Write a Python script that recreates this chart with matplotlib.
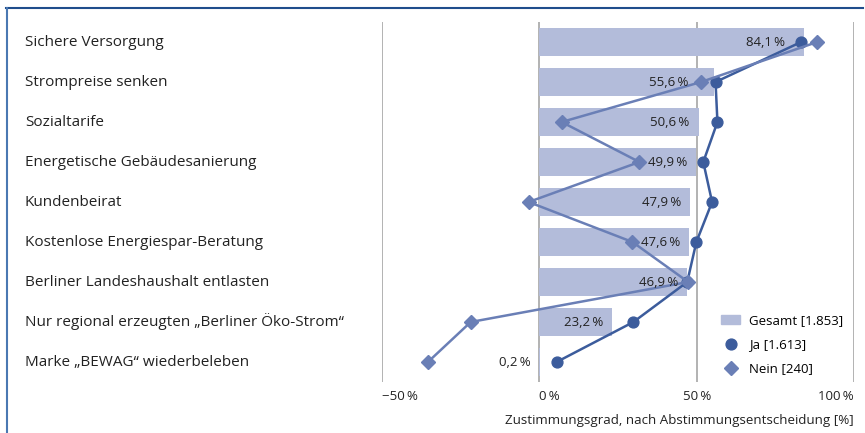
import numpy as np
import matplotlib
matplotlib.use("Agg")
import matplotlib.pyplot as plt
from matplotlib.lines import Line2D
from matplotlib.patches import Patch
import matplotlib.transforms as mtransforms

plt.rcParams['font.family'] = ['Open Sans', 'DejaVu Sans']

# data
categories = ["Sichere Versorgung", "Strompreise senken", "Sozialtarife",
              "Energetische Gebäudesanierung", "Kundenbeirat",
              "Kostenlose Energiespar-Beratung", "Berliner Landeshaushalt entlasten",
              "Nur regional erzeugten \u201eBerliner Öko-Strom\u201c",
              "Marke \u201eBEWAG\u201c wiederbeleben"]
gesamt = [84.1, 55.6, 50.6, 49.9, 47.9, 47.6, 46.9, 23.2, 0.2]
ja = [83.2, 56.0, 56.6, 52.1, 54.9, 49.9, 47.0, 29.9, 5.5]
nein = [88.3, 51.4, 7.1, 31.8, -3.4, 29.6, 47.3, -21.8, -35.4]
xticks = [-50, 0, 50, 100]
labels_legend = ["Gesamt [1.853]", "Ja [1.613]", "Nein [240]"]

c_bar = "#b3bcda"
c_ja = "#3c5c9c"
c_nein = "#6a7fb6"
c_grid = "#a6a6a6"
c_text = "#222222"

def fmt(v):
    return ("%.1f" % v).replace(".", ",") + "\u2009%"

fig = plt.figure(figsize=(8.65, 4.33), dpi=100)
ax = fig.add_axes([382/865, 1-382/433, 472/865, 360/433])

y = np.arange(len(categories))
ax.barh(y, gesamt, height=0.7, color=c_bar, zorder=1)
ax.plot(ja, y, color=c_ja, lw=1.8, marker='o', ms=7.8, zorder=3)
ax.plot(nein, y, color=c_nein, lw=1.8, marker='D', ms=7, zorder=4)

# value labels, a few moved left of the markers
shift = {0: -14, 1: -19}
for i, v in enumerate(gesamt):
    dx = shift.get(i, -6.5)
    ax.annotate(fmt(v), (v, i), xytext=(dx, 0), textcoords='offset points',
                ha='right', va='center', fontsize=9.5, color=c_text, zorder=5)

ax.set_xlim(-50, 100)
ax.set_ylim(len(categories) - 0.5, -0.5)
for xv in xticks:
    ax.axvline(xv, color=c_grid, lw=1.2, zorder=0)
ax.set_xticks(xticks)
ax.set_xticklabels([("\u2212" if t < 0 else "") + "%d\u2009%%" % abs(t) for t in xticks],
                   fontsize=9.5, color=c_text)
for lab, ha in zip(ax.get_xticklabels(), ['left', 'left', 'center', 'right']):
    lab.set_ha(ha)
ax.tick_params(axis='x', length=0, pad=6)
ax.set_yticks([])
for s in ax.spines.values():
    s.set_visible(False)
ax.set_xlabel("Zustimmungsgrad, nach Abstimmungsentscheidung [%]", fontsize=9.6,
              color=c_text, loc='right', labelpad=8)

trans = mtransforms.blended_transform_factory(fig.transFigure, ax.transData)
for i, c in enumerate(categories):
    ax.text(25/865, i, c, transform=trans, ha='left', va='center',
            fontsize=11, color=c_text)

handles = [Patch(color=c_bar),
           Line2D([], [], color=c_ja, marker='o', ls='none', ms=7.8),
           Line2D([], [], color=c_nein, marker='D', ls='none', ms=7)]
ax.legend(handles, labels_legend, loc='lower left', bbox_to_anchor=(0.694, -0.015),
          frameon=False, fontsize=9.5, handlelength=1.4, labelspacing=0.85,
          handletextpad=0.7)

# frame lines
fig.add_artist(Line2D([6/865, 863/865], [1-8/433, 1-8/433], color="#1f4d8c", lw=1.5))
fig.add_artist(Line2D([6.5/865, 6.5/865], [0, 1-8/433], color="#4a78b2", lw=1.5))

fig.savefig("out.png", dpi=100)
